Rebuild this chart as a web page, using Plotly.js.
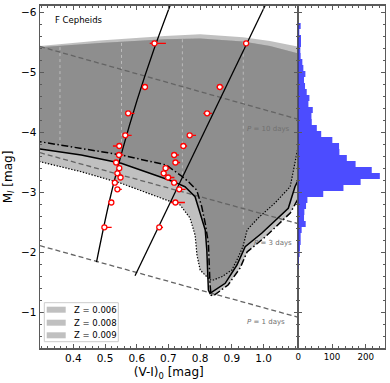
<!DOCTYPE html>
<html>
<head>
<meta charset="utf-8">
<script src="https://cdn.plot.ly/plotly-3.0.1.min.js"></script>
<style>
  html, body { margin: 0; padding: 0; background: #fff; }
  #plot { width: 390px; height: 383px; }
</style>
</head>
<body>
<div id="plot"></div>
<script>
// stars: M_I and the two colour edges (blue / red)
const magI = [-5.483, -4.755, -4.317, -3.95, -3.772, -3.622, -3.497, -3.402, -3.317, -3.247, -3.16, -3.05, -2.83, -2.417];
const colBlue = [0.656, 0.626, 0.573, 0.564, 0.545, 0.544, 0.535, 0.545, 0.539, 0.549, 0.531, 0.539, 0.520, 0.498];
const colRed = [0.945, 0.862, 0.822, 0.767, 0.747, 0.718, 0.722, 0.691, 0.685, 0.699, 0.718, 0.734, 0.722, 0.671];
const errBluePlus = [0.036, 0, 0.02, 0.02, 0, 0.014, 0, 0, 0.01, 0, 0, 0.014, 0, 0.023];
const errBlueMinus = [0.015, 0, 0.01, 0, 0.02, 0, 0, 0, 0, 0, 0, 0, 0, 0];
const errRedPlus = [0, 0.012, 0.015, 0.02, 0.012, 0.015, 0.015, 0.015, 0.008, 0.02, 0.008, 0.02, 0.03, 0.012];
const errRedMinus = [0, 0.01, 0.012, 0, 0, 0, 0, 0, 0, 0, 0, 0, 0.015, 0];

// fitted edges
const fitBlueV = [0.4732, 0.5147, 0.555, 0.6013, 0.6536, 0.705];
const fitBlueM = [-1.838, -2.872, -3.705, -4.538, -5.372, -6.11];
const fitRedV = [0.5946, 1.0045];
const fitRedM = [-1.61, -6.11];

// instability strip models: top edge and lower (outlined) edge
const topLightV = [0.295, 0.484, 0.689, 0.800, 0.935, 1.02, 1.107];
const topLightM = [-5.438, -5.53, -5.605, -5.633, -5.583, -5.522, -5.43];
const topDarkV = [0.295, 0.484, 0.689, 0.800, 0.935, 1.02, 1.107];
const topDarkM = [-5.417, -5.488, -5.55, -5.563, -5.513, -5.438, -5.317];

const edge006V = [1.107, 1.099, 1.084, 1.036, 0.983, 0.948, 0.935, 0.916, 0.900, 0.868, 0.842, 0.831, 0.816, 0.800, 0.790, 0.784, 0.768, 0.737, 0.693, 0.551, 0.425, 0.295];
const edge006M = [-3.705, -3.483, -3.093, -2.822, -2.572, -2.372, -2.093, -1.872, -1.705, -1.593, -1.538, -1.54, -1.622, -1.705, -1.955, -2.288, -2.572, -2.788, -2.872, -3.15, -3.343, -3.51];
const edge008V = [1.107, 1.099, 1.078, 0.994, 0.942, 0.916, 0.879, 0.837, 0.831, 0.826, 0.824, 0.821, 0.816, 0.800, 0.784, 0.752, 0.716, 0.673, 0.551, 0.425, 0.295];
const edge008M = [-3.18, -3.093, -2.733, -2.317, -2.093, -1.788, -1.483, -1.343, -1.317, -1.372, -1.705, -2.038, -2.372, -2.65, -2.927, -3.093, -3.177, -3.26, -3.483, -3.622, -3.722];
const edge009V = [1.107, 1.084, 1.005, 0.948, 0.926, 0.888, 0.841, 0.834, 0.831, 0.829, 0.826, 0.816, 0.805, 0.789, 0.763, 0.737, 0.693, 0.551, 0.425, 0.295];
const edge009M = [-2.872, -2.655, -2.255, -2.005, -1.738, -1.455, -1.272, -1.29, -1.483, -1.872, -2.15, -2.483, -2.76, -3.038, -3.177, -3.288, -3.455, -3.622, -3.733, -3.843];

const zLabels = ['Z = 0.006', 'Z = 0.008', 'Z = 0.009'];

// constant period lines
const periodLabels = ['<i>P</i> = 10 days', '<i>P</i> = 3 days', '<i>P</i> = 1 days'];
const periodV = [0.295, 1.107];
const periodM = [[-5.43, -4.22], [-3.66, -2.48], [-2.11, -0.92]];
const periodLabelV = [1.017, 1.030, 1.009];
const periodLabelM = [-4.055, -2.155, -0.843];

// faint vertical guides inside the strip
const guideV = [0.358, 0.552, 0.744, 0.936];
const guideTopM = [-5.42, -5.49, -5.55, -5.51];
const guideBotM = [-3.8, -3.63, -3.27, -2.43];

// histogram of M_I
const binMag = [-5.77, -5.67, -5.57, -5.47, -5.37, -5.27, -5.17, -5.07, -4.97, -4.87, -4.77, -4.67, -4.57, -4.47, -4.37, -4.27, -4.17, -4.07, -3.97, -3.87, -3.77, -3.67, -3.57, -3.47, -3.37, -3.27, -3.17, -3.07, -2.97, -2.87, -2.77, -2.67, -2.57, -2.47, -2.37, -2.27, -2.17, -2.07, -1.97, -1.87, -1.77];
const binCount = [7, 3, 8, 8, 6, 7, 12, 15, 21, 17, 20, 25, 33, 30, 43, 39, 40, 55, 68, 101, 121, 122, 144, 170, 218, 242, 185, 134, 74, 27, 23, 18, 17, 22, 10, 7, 7, 5, 4, 2, 1];

const grey = 'rgba(124,124,124,0.48)';
const axisCol = 'rgb(90,90,90)';
const Y_TOP = -6.11, Y_BOT = -0.4;

function strip(topV, topM, edgeV, edgeM) {
    return {
        x: topV.concat(edgeV), y: topM.concat(edgeM),
        type: 'scatter', mode: 'lines', fill: 'toself', fillcolor: grey,
        line: { width: 0 }, hoverinfo: 'skip',
    };
}

function edge(v, m, dash, w) {
    return { x: v, y: m, type: 'scatter', mode: 'lines', line: { color: 'black', width: w, dash: dash } };
}

function withBreaks(list) {
    const out = [];
    list.forEach((a, i) => { out.push(...a); if (i < list.length - 1) out.push(null); });
    return out;
}

const data = [
    strip(topLightV, topLightM, edge006V, edge006M),
    strip(topDarkV, topDarkM, edge008V, edge008M),
    strip(topDarkV, topDarkM, edge009V, edge009M),
    {
        x: withBreaks(guideV.map(v => [v, v])),
        y: withBreaks(guideV.map((v, i) => [guideTopM[i], guideBotM[i]])),
        type: 'scatter', mode: 'lines',
        line: { color: 'rgba(255,255,255,0.4)', width: 1, dash: '3px,3px' },
    },
    {
        x: withBreaks(periodM.map(() => periodV)),
        y: withBreaks(periodM),
        type: 'scatter', mode: 'lines',
        line: { color: 'rgb(100,100,100)', width: 1.3, dash: '5px,3px' },
    },
    edge(edge006V, edge006M, '1.4px,1.6px', 1.2),
    edge(edge008V, edge008M, 'solid', 1.5),
    edge(edge009V, edge009M, '7px,2.5px,1.5px,2.5px', 1.5),
    { x: fitBlueV, y: fitBlueM, type: 'scatter', mode: 'lines', line: { color: 'black', width: 1.3, shape: 'spline' } },
    { x: fitRedV, y: fitRedM, type: 'scatter', mode: 'lines', line: { color: 'black', width: 1.3 } },
    {
        x: colBlue, y: magI, type: 'scatter', mode: 'markers',
        marker: { symbol: 'circle', size: 5, color: 'white', line: { color: 'red', width: 1.3 } },
        error_x: { type: 'data', symmetric: false, array: errBluePlus, arrayminus: errBlueMinus, color: 'red', thickness: 1.3, width: 0 },
    },
    {
        x: colRed, y: magI, type: 'scatter', mode: 'markers',
        marker: { symbol: 'circle', size: 5, color: 'white', line: { color: 'red', width: 1.3 } },
        error_x: { type: 'data', symmetric: false, array: errRedPlus, arrayminus: errRedMinus, color: 'red', thickness: 1.3, width: 0 },
    },
    {
        x: binCount, y: binMag, type: 'bar', orientation: 'h', width: 0.1,
        xaxis: 'x2', yaxis: 'y2',
        marker: { color: 'rgba(0,0,255,0.7)', line: { width: 0 } },
    },
];

const W = 390, H = 383;
const px = v => v / W;
const py = v => 1 - v / H;

const tickStyle = {
    ticks: 'inside', ticklen: 4, tickwidth: 1, tickcolor: axisCol,
    showline: true, linecolor: axisCol, linewidth: 1.4, mirror: 'ticks',
    showgrid: false, zeroline: false,
};

const shapes = [
    { type: 'rect', xref: 'paper', yref: 'paper', x0: px(44.3), x1: px(118.3), y0: py(341.7), y1: py(302.7),
      fillcolor: 'rgba(255,255,255,0.85)', line: { color: '#cccccc', width: 1 } },
];
const annotations = [
    { xref: 'paper', yref: 'paper', x: px(53), y: py(20), xanchor: 'left', yanchor: 'middle',
      text: 'F Cepheids', showarrow: false, font: { size: 8.5, color: 'black' } },
];
const legendRows = [309.7, 322.7, 335.3];
zLabels.forEach((t, i) => {
    shapes.push({ type: 'rect', xref: 'paper', yref: 'paper', x0: px(46.7), x1: px(65.7),
        y0: py(legendRows[i] + 3), y1: py(legendRows[i] - 3), fillcolor: grey, line: { width: 0 } });
    annotations.push({ xref: 'paper', yref: 'paper', x: px(71.7), y: py(legendRows[i]), xanchor: 'left', yanchor: 'middle',
        text: t, showarrow: false, font: { size: 8.5, color: 'black' } });
});
periodLabels.forEach((t, i) => {
    annotations.push({ xref: 'x', yref: 'y', x: periodLabelV[i], y: periodLabelM[i], text: t, showarrow: false,
        font: { size: 7, color: '#707070' } });
});

const layout = {
    width: W, height: H,
    margin: { l: 0, r: 0, t: 0, b: 0 },
    paper_bgcolor: 'white', plot_bgcolor: 'white',
    showlegend: false,
    font: { family: 'DejaVu Sans', color: 'black' },
    xaxis: Object.assign({}, tickStyle, {
        domain: [px(40), px(297.5)], range: [0.295, 1.107], anchor: 'y',
        tickvals: [0.4, 0.5, 0.6, 0.7, 0.8, 0.9, 1.0], tickformat: '.1f',
        tickfont: { size: 10.5 },
        minor: { dtick: 0.02, tick0: 0, ticks: 'inside', ticklen: 2, tickcolor: axisCol },
        title: { text: '(V-I)<sub>0</sub> [mag]', font: { size: 12 }, standoff: 4 },
    }),
    yaxis: Object.assign({}, tickStyle, {
        domain: [1 - 348.3 / H, 1 - 5.7 / H], range: [Y_BOT, Y_TOP], anchor: 'x',
        dtick: 1, tick0: 0, tickfont: { size: 10.5 },
        minor: { dtick: 0.2, tick0: 0, ticks: 'inside', ticklen: 2, tickcolor: axisCol },
        title: { text: 'M<sub><i>I</i></sub> [mag]', font: { size: 12 }, standoff: 6 },
    }),
    xaxis2: Object.assign({}, tickStyle, {
        domain: [px(298.3), px(384.5)], range: [0, 255.8], anchor: 'y2',
        dtick: 100, tick0: 0, tickfont: { size: 8.7 },
        minor: { dtick: 20, tick0: 0, ticks: 'inside', ticklen: 2, tickcolor: axisCol },
    }),
    yaxis2: Object.assign({}, tickStyle, {
        domain: [1 - 348.3 / H, 1 - 5.7 / H], matches: 'y', anchor: 'x2',
        showticklabels: false, dtick: 1, tick0: 0,
        minor: { dtick: 0.2, tick0: 0, ticks: 'inside', ticklen: 2, tickcolor: axisCol },
    }),
    shapes: shapes,
    annotations: annotations,
};

Plotly.newPlot(document.getElementById('plot'), data, layout, { displayModeBar: false, staticPlot: true });
</script>
</body>
</html>
